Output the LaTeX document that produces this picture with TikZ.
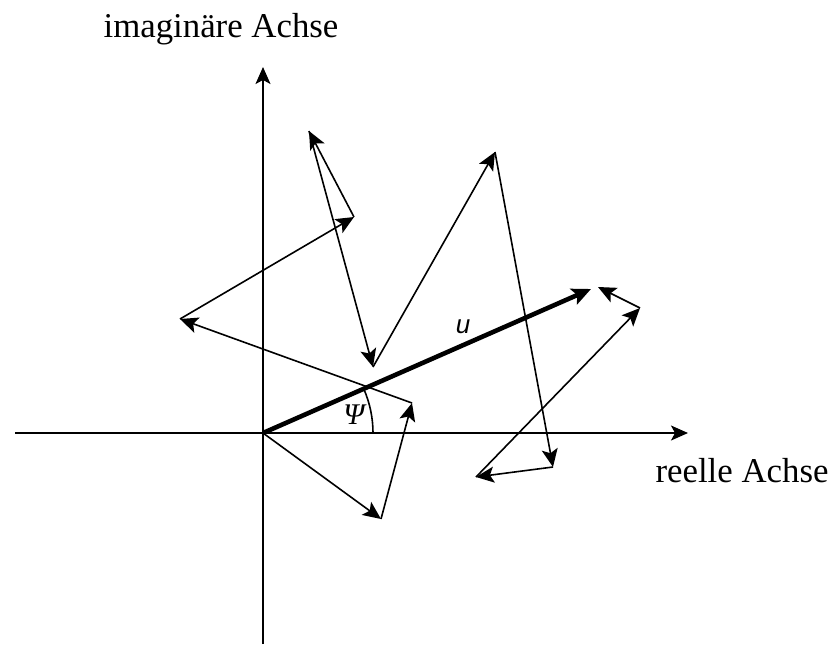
\documentclass[tikz,border=0pt]{standalone}
\usepackage{fontspec}
\setmainfont{Liberation Serif}
\setsansfont{Liberation Sans}
\usetikzlibrary{arrows.meta}

\tikzset{
    zeiger/.style={-{Stealth[length=9pt,width=8pt,inset=2pt]}, line width=0.8pt},
    resultierende/.style={-{Stealth[length=9.5pt,width=8.5pt,inset=2pt]}, line width=2.3pt},
    achse/.style={-{Stealth[length=8.5pt,width=7.5pt,inset=2pt]}, line width=0.8pt},
    beschriftung/.style={font=\fontsize{17.4}{20}\selectfont, anchor=base}
}

\begin{document}
\begin{tikzpicture}[x=0.5pt, y=-0.5pt]

        \useasboundingbox (0,0) rectangle (831,644);

        % ==========================================
        % 1. Achsen der komplexen Ebene
        % ==========================================
        \coordinate (O) at (263,433);
        \coordinate (xa) at (15,433);
        \coordinate (xe) at (688,433);
        \coordinate (ya) at (263,644);
        \coordinate (ye) at (263,67);
        \draw[achse] (xa) -- (xe);
        \draw[achse] (ya) -- (ye);
        \node[beschriftung] (im) at (221,37) {imaginäre Achse};
        \node[beschriftung] (re) at (742,482) {reelle Achse};

        % ==========================================
        % 2. Einzelzeiger (Polygonzug)
        % ==========================================
        \coordinate (z1) at (381,519);
        \coordinate (z2) at (412,403);
        \coordinate (z3) at (180,319);
        \coordinate (z4) at (354,217);
        \coordinate (z5) at (309,131);
        \coordinate (z6) at (373,367);
        \coordinate (z7) at (495,152);
        \coordinate (z8) at (553,467);
        \coordinate (z9) at (476,477);
        \coordinate (z10) at (640,308);
        \coordinate (z11) at (598,287);
        \draw[zeiger] (O) -- (z1);
        \draw[zeiger] (z1) -- (z2);
        \draw[zeiger] (z2) -- (z3);
        \draw[zeiger] (z3) -- (z4);
        \draw[zeiger] (z4) -- (z5);
        \draw[zeiger] (z5) -- (z6);
        \draw[zeiger] (z6) -- (z7);
        \draw[zeiger] (z7) -- (z8);
        \draw[zeiger] (z8) -- (z9);
        \draw[zeiger] (z9) -- (z10);
        \draw[zeiger] (z10) -- (z11);

        % ==========================================
        % 3. Resultierender Zeiger u und Winkel
        % ==========================================
        \coordinate (U) at (591,289);
        \draw[resultierende] (O) -- (U);
        \node (u) at (463,327) {\fontsize{13}{15}\sffamily\itshape u};
        \draw[line width=0.8pt] (373,433) arc[start angle=0, end angle=-23.6, radius=110];
        \node (psi) at (354,415) {\fontsize{15}{16}\selectfont\itshape Ψ};

    \end{tikzpicture}
\end{document}
